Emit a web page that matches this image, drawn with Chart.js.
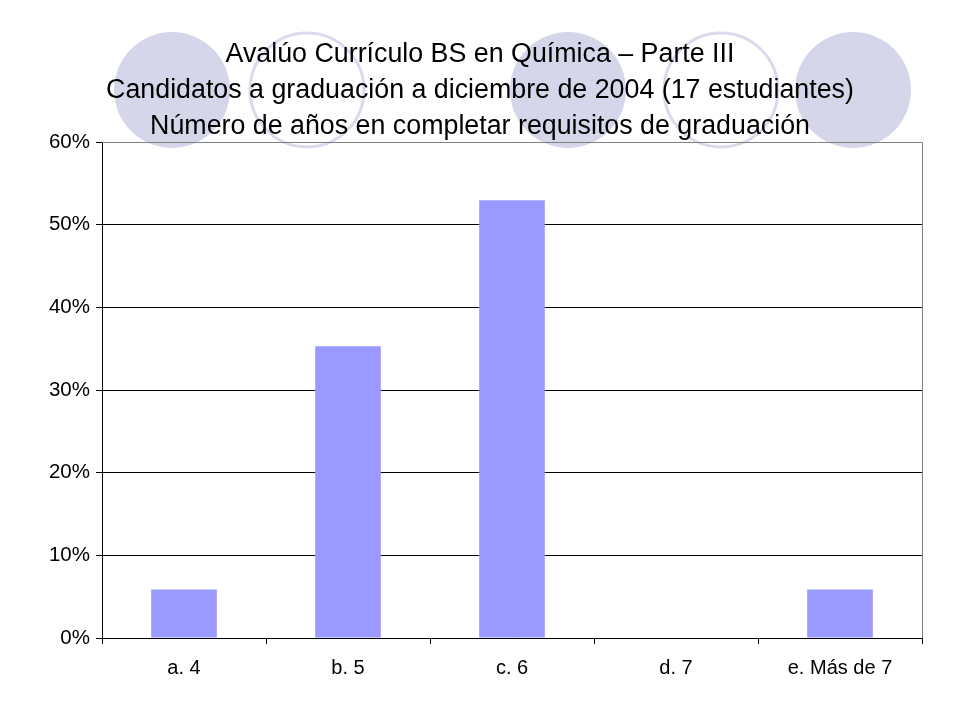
<!DOCTYPE html>
<html>
<head>
<meta charset="utf-8">
<script src="https://cdn.jsdelivr.net/npm/chart.js@4/dist/chart.umd.min.js"></script>
<style>
  html, body { margin: 0; padding: 0; background: #fff; }
  #wrap { width: 960px; height: 720px; }
</style>
</head>
<body>
<div id="wrap"><canvas id="barChart" width="960" height="720"></canvas></div>
<script>
// data (1/17, 6/17, 9/17, 0, 1/17)
const categories = ['a. 4', 'b. 5', 'c. 6', 'd. 7', 'e. Más de 7'];
const shares = [0.0588, 0.3529, 0.5294, 0, 0.0588];
const yTicks = [0, 0.1, 0.2, 0.3, 0.4, 0.5, 0.6];
const titleLines = [
  'Avalúo Currículo BS en Química – Parte III',
  'Candidatos a graduación a diciembre de 2004 (17 estudiantes)',
  'Número de años en completar requisitos de graduación'
];

// slide decoration behind the title
const circlesPlugin = {
  id: 'circles',
  beforeDraw(chart) {
    const ctx = chart.ctx;
    ctx.save();
    const filled = [172, 568, 853];
    const outlined = [307, 721];
    ctx.fillStyle = '#D6D6EB';
    filled.forEach(x => {
      ctx.beginPath();
      ctx.arc(x, 90, 58, 0, Math.PI * 2);
      ctx.fill();
    });
    ctx.strokeStyle = '#DADAEC';
    ctx.lineWidth = 3;
    outlined.forEach(x => {
      ctx.beginPath();
      ctx.arc(x, 90, 57, 0, Math.PI * 2);
      ctx.stroke();
    });
    ctx.restore();
  }
};

// gray top and right edge of the plot area
const framePlugin = {
  id: 'frame',
  afterDraw(chart) {
    const a = chart.chartArea;
    const ctx = chart.ctx;
    ctx.save();
    ctx.strokeStyle = '#808080';
    ctx.lineWidth = 1;
    ctx.beginPath();
    ctx.moveTo(a.left, a.top + 0.5);
    ctx.lineTo(a.right + 0.5, a.top + 0.5);
    ctx.lineTo(a.right + 0.5, a.bottom);
    ctx.stroke();
    ctx.restore();
  }
};

const ctx = document.getElementById('barChart').getContext('2d');
new Chart(ctx, {
  type: 'bar',
  data: {
    labels: categories,
    datasets: [{
      data: shares,
      backgroundColor: '#9999FF',
      borderWidth: 0,
      barPercentage: 0.4,
      categoryPercentage: 1.0
    }]
  },
  options: {
    responsive: false,
    animation: false,
    layout: { padding: 0 },
    plugins: {
      legend: { display: false },
      tooltip: { enabled: false },
      title: {
        display: true,
        text: titleLines,
        color: '#000',
        font: { family: 'Liberation Sans, Arial, sans-serif', size: 26.8, weight: 'normal', lineHeight: 36 / 26.8 },
        padding: { top: 37, bottom: -3 }
      }
    },
    scales: {
      x: {
        grid: { display: true, drawOnChartArea: false, drawTicks: true, tickLength: 6, color: '#000', offset: true },
        border: { color: '#000', width: 1 },
        ticks: {
          color: '#000',
          padding: 12,
          maxRotation: 0,
          font: { family: 'Liberation Sans, Arial, sans-serif', size: 20 }
        },
        afterFit(scale) { scale.height = 82; }
      },
      y: {
        min: 0,
        max: 0.6,
        afterBuildTicks(scale) { scale.ticks = yTicks.map(v => ({ value: v })); },
        grid: { color: '#000', lineWidth: 1, drawTicks: true, tickLength: 6 },
        border: { color: '#000', width: 1 },
        ticks: {
          color: '#000',
          padding: 6,
          font: { family: 'Liberation Sans, Arial, sans-serif', size: 20.5 },
          callback: v => Math.round(v * 100) + '%'
        },
        afterFit(scale) { scale.width = 102; }
      },
      // empty right-hand axis that only reserves the margin right of the plot
      yRight: {
        position: 'right',
        min: 0,
        max: 0.6,
        grid: { drawOnChartArea: false, drawTicks: false },
        border: { display: false },
        ticks: { display: false },
        afterFit(scale) { scale.width = 38; }
      }
    }
  },
  plugins: [circlesPlugin, framePlugin]
});
</script>
</body>
</html>
